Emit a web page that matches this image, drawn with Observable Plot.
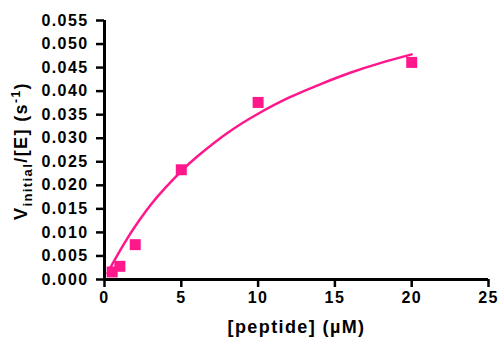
<!DOCTYPE html>
<html>
<head>
<meta charset="utf-8">
<script src="https://cdn.jsdelivr.net/npm/d3@7"></script>
<script src="https://cdn.jsdelivr.net/npm/@observablehq/plot@0.6"></script>
<style>
  body { margin: 0; background: #fff; }
</style>
</head>
<body>
<div id="chart"></div>
<script>
// Measured points
const peptide = [0.5, 1, 2, 5, 10, 20];
const rate = [0.0016, 0.0028, 0.0074, 0.0233, 0.0376, 0.0461];

// Fitted curve
const curveX = [0.2, 0.5, 1, 1.5, 2, 3, 4, 5, 6, 8, 10, 12, 14, 16, 18, 20];
const curveY = [0.0013, 0.0032, 0.0061, 0.0088, 0.0113, 0.0158, 0.0196, 0.0230, 0.0260, 0.0311, 0.0352, 0.0386, 0.0414, 0.0439, 0.0460, 0.0478];

const xTicks = [0, 5, 10, 15, 20, 25];
const yTicks = [0, 0.005, 0.010, 0.015, 0.020, 0.025, 0.030, 0.035, 0.040, 0.045, 0.050, 0.055];

const pink = "#ff178c";
const points = peptide.map((x, i) => ({x, y: rate[i]}));
const curve = curveX.map((x, i) => ({x, y: curveY[i]}));

const chart = Plot.plot({
  width: 500,
  height: 343,
  marginLeft: 104,
  marginRight: 12,
  marginTop: 20,
  marginBottom: 64,
  style: {fontFamily: "'Liberation Sans', Arial, sans-serif", fontSize: "16px", fontWeight: "bold", color: "#000", background: "#fff"},
  x: {domain: [0, 25]},
  y: {domain: [0, 0.055]},
  marks: [
    Plot.axisX({ticks: xTicks, tickSize: 8, tickPadding: 4, strokeWidth: 2.5, tickFormat: d3.format("d"), label: null, fontSize: 16}),
    Plot.axisY({ticks: yTicks, tickSize: 8, tickPadding: 8, strokeWidth: 2.5, tickFormat: d3.format(".3f"), label: null, fontSize: 16}),
    Plot.ruleY([0], {stroke: "#000", strokeWidth: 3}),
    Plot.ruleX([0], {stroke: "#000", strokeWidth: 3}),
    Plot.line(curve, {x: "x", y: "y", stroke: pink, strokeWidth: 2.5, curve: "natural"}),
    Plot.dot(points, {x: "x", y: "y", symbol: "square", r: 6.2, fill: pink, stroke: "none"}),
    Plot.text(["[peptide] (\u00b5M)"], {frameAnchor: "bottom", dy: 53, text: d => d, fontSize: 18, fontWeight: "bold"})
  ]
});

const svg = d3.select(chart);
// widen letter spacing of tick labels and x label to match reference
svg.selectAll("g[aria-label='y-axis tick label'] text, g[aria-label='x-axis tick label'] text").style("letter-spacing", "1.4px");
svg.selectAll("g[aria-label='text'] text").style("letter-spacing", "1.4px");

const lab = svg.append("text")
  .attr("transform", "translate(27,151) rotate(-90)")
  .attr("text-anchor", "middle")
  .attr("font-size", 18)
  .attr("font-weight", "bold")
  .attr("fill", "#000")
  .style("letter-spacing", "1.4px");
lab.append("tspan").text("V");
lab.append("tspan").attr("font-size", 13).attr("dy", 5).text("initial");
lab.append("tspan").attr("dy", -5).text("/[E] (s");
lab.append("tspan").attr("font-size", 12).attr("dy", -7).text("-1");
lab.append("tspan").attr("dy", 7).text(")");

document.getElementById("chart").appendChild(chart);
</script>
</body>
</html>
